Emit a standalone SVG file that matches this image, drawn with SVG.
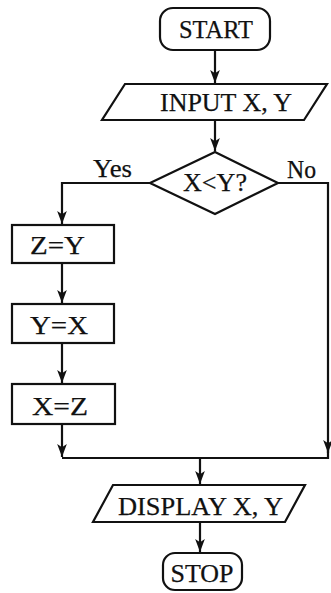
<svg xmlns="http://www.w3.org/2000/svg" width="331" height="593" viewBox="0 0 331 593">
<style>
.s{fill:#fff;stroke:#111;stroke-width:2.2}
.c{fill:none;stroke:#111;stroke-width:2.2}
text{font-family:"Liberation Serif","Times New Roman",serif;font-size:26px;fill:#111;stroke:#111;stroke-width:0.25}
.m{text-anchor:middle}
</style>
<defs>
<marker id="a" markerUnits="userSpaceOnUse" markerWidth="14" markerHeight="12" viewBox="0 0 13 10" refX="12" refY="5" orient="auto">
<path d="M0,0.5 L12,5 L0,9.5 L3,5 z" fill="#111"/>
</marker>
</defs>
<g id="connectors">
<path class="c" d="M215,50 V83" marker-end="url(#a)"/>
<path class="c" d="M215,120 V151" marker-end="url(#a)"/>
<path class="c" d="M150,183 H62 V224" marker-end="url(#a)"/>
<path class="c" d="M62,263 V303" marker-end="url(#a)"/>
<path class="c" d="M62,343 V383" marker-end="url(#a)"/>
<path class="c" d="M62,424 V457" marker-end="url(#a)"/>
<path class="c" d="M278,183 H328 V453" marker-end="url(#a)"/>
<path class="c" d="M328,450 V458 H62"/>
<path class="c" d="M200,458 V484" marker-end="url(#a)"/>
<path class="c" d="M200,522 V552" marker-end="url(#a)"/>
</g>
<g id="start">
<rect class="s" x="160" y="8" width="110" height="42" rx="13"/>
<text class="m" x="216" y="38" textLength="74" lengthAdjust="spacingAndGlyphs">START</text>
</g>
<g id="input">
<polygon class="s" points="125,84 327,84 304,120 102,120"/>
<text x="160" y="111" textLength="132" lengthAdjust="spacingAndGlyphs">INPUT X, Y</text>
</g>
<g id="decision">
<polygon class="s" points="215,152 278,183 215,214 150,183"/>
<text class="m" x="215" y="191" textLength="64" lengthAdjust="spacingAndGlyphs">X&lt;Y?</text>
</g>
<g id="labels">
<text x="93" y="177" textLength="39" lengthAdjust="spacingAndGlyphs">Yes</text>
<text x="287" y="178" textLength="29" lengthAdjust="spacingAndGlyphs">No</text>
</g>
<g id="zy">
<rect class="s" x="12" y="225" width="102" height="38"/>
<text x="30" y="254" textLength="55" lengthAdjust="spacingAndGlyphs">Z=Y</text>
</g>
<g id="yx">
<rect class="s" x="12" y="304" width="102" height="39"/>
<text x="30" y="334" textLength="58" lengthAdjust="spacingAndGlyphs">Y=X</text>
</g>
<g id="xz">
<rect class="s" x="12" y="384" width="103" height="40"/>
<text x="32" y="415" textLength="56" lengthAdjust="spacingAndGlyphs">X=Z</text>
</g>
<g id="display">
<polygon class="s" points="113,485 305,485 285,522 93,522"/>
<text x="118" y="515" textLength="165" lengthAdjust="spacingAndGlyphs">DISPLAY X, Y</text>
</g>
<g id="stop">
<rect class="s" x="163" y="553" width="79" height="37" rx="12"/>
<text class="m" x="202" y="582" textLength="63" lengthAdjust="spacingAndGlyphs">STOP</text>
</g>
</svg>
